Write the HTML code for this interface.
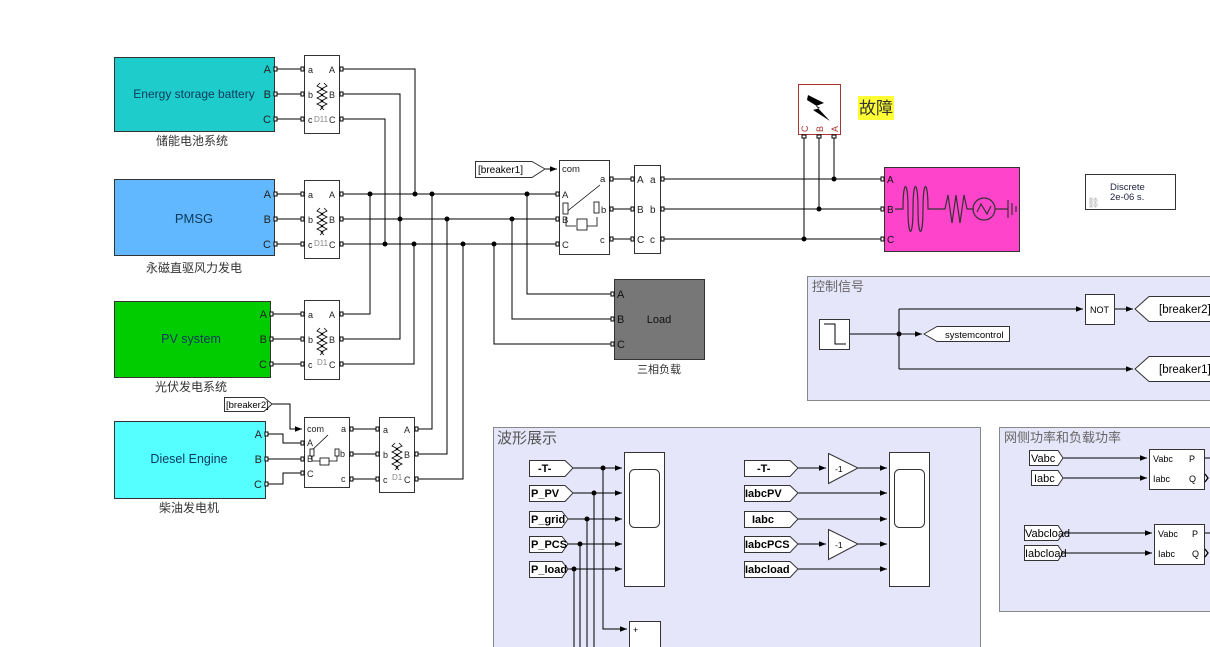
<!DOCTYPE html>
<html><head><meta charset="utf-8"><style>
body{margin:0;background:#fff}
svg{display:block}
text{font-family:"Liberation Sans","Noto Sans CJK SC",sans-serif}
</style></head><body>
<svg width="1210" height="647" viewBox="0 0 1210 647" xmlns="http://www.w3.org/2000/svg">
<defs>
<marker id="ar" viewBox="0 0 10 10" refX="10" refY="5" markerWidth="7" markerHeight="7" orient="auto"><path d="M0,1 L10,5 L0,9z" fill="#000"/></marker>
<g id="coil" fill="none" stroke="#000" stroke-width="0.8">
<path d="M16,28 l-3,3 l6,3 l-6,3 l6,3 l-6,3 l6,3 l-6,3 l6,3 l-3,3"/>
<path d="M20,28 l3,3 l-6,3 l6,3 l-6,3 l6,3 l-6,3 l6,3 l-6,3 l3,3"/>
</g>
</defs>
<rect width="1210" height="647" fill="#fff"/>

<rect x="807.5" y="276.5" width="410" height="124" fill="#e6e6fa" stroke="#888"/>
<text x="812" y="291" font-size="13" fill="#666">控制信号</text>
<rect x="493.5" y="427.5" width="487" height="230" fill="#e6e6fa" stroke="#888"/>
<text x="497" y="443" font-size="15" fill="#555">波形展示</text>
<rect x="999.5" y="427.5" width="220" height="184" fill="#e6e6fa" stroke="#888"/>
<text x="1004" y="442" font-size="13" fill="#666">网侧功率和负载功率</text>

<g stroke="#000" stroke-width="1" fill="none">
<path d="M274,69H304M274,94H304M274,119H304"/>
<path d="M274,194H304M274,219H304M274,244H304"/>
<path d="M270,314H304M270,339H304M270,364H304"/>
<path d="M340,69H415V194M340,94H400V219M340,119H385V244"/>
<path d="M340,194H559M340,219H559M340,244H559"/>
<path d="M340,314H370V194M340,339H400V219M340,364H414V244"/>
<path d="M415,429H432V194M415,454H447V219M415,479H463V244"/>
<path d="M265,434H283V443H304M265,459H304M265,484H283V473H304"/>
<path d="M350,429H379M350,454H379M350,479H379"/>
<path d="M272,404H290V429H302" marker-end="url(#ar)"/>
<path d="M527,194V294H612M512,219V319H612M494,244V344H612"/>
<path d="M545,169H557" marker-end="url(#ar)"/>
<path d="M609,179H634M609,209H634M609,239H634"/>
<path d="M660,179H884M660,209H884M660,239H884"/>
<path d="M834,134V179M819,134V209M804,134V239"/>
<path d="M849,334H899M899,309V369"/>
<path d="M899,334H922" marker-end="url(#ar)"/>
<path d="M899,309H1083" marker-end="url(#ar)"/>
<path d="M1114,309H1133" marker-end="url(#ar)"/>
<path d="M899,369H1133" marker-end="url(#ar)"/>
<path d="M573,468H622" marker-end="url(#ar)"/>
<path d="M573,493H622" marker-end="url(#ar)"/>
<path d="M568,519H622" marker-end="url(#ar)"/>
<path d="M568,544H622" marker-end="url(#ar)"/>
<path d="M568,569H622" marker-end="url(#ar)"/>
<path d="M603,468V629H627" marker-end="url(#ar)"/>
<path d="M594,493V647M587,519V647M580,544V647M574,569V647"/>
<path d="M798,468H826" marker-end="url(#ar)"/>
<path d="M858,468H887" marker-end="url(#ar)"/>
<path d="M798,493H887" marker-end="url(#ar)"/>
<path d="M798,519H887" marker-end="url(#ar)"/>
<path d="M798,544H826" marker-end="url(#ar)"/>
<path d="M858,544H887" marker-end="url(#ar)"/>
<path d="M798,569H887" marker-end="url(#ar)"/>
<path d="M1063,458H1147" marker-end="url(#ar)"/>
<path d="M1063,478H1147" marker-end="url(#ar)"/>
<path d="M1063,533H1152" marker-end="url(#ar)"/>
<path d="M1063,553H1152" marker-end="url(#ar)"/>
<path d="M1204,458H1210M1204,533H1210"/>
</g>
<g fill="#000">
<circle cx="370" cy="194" r="2.5"/><circle cx="415" cy="194" r="2.5"/><circle cx="432" cy="194" r="2.5"/><circle cx="527" cy="194" r="2.5"/>
<circle cx="400" cy="219" r="2.5"/><circle cx="447" cy="219" r="2.5"/><circle cx="512" cy="219" r="2.5"/>
<circle cx="385" cy="244" r="2.5"/><circle cx="414" cy="244" r="2.5"/><circle cx="463" cy="244" r="2.5"/><circle cx="494" cy="244" r="2.5"/>
<circle cx="834" cy="179" r="2.5"/><circle cx="819" cy="209" r="2.5"/><circle cx="804" cy="239" r="2.5"/>
<circle cx="899" cy="334" r="2.5"/>
<circle cx="603" cy="468" r="2.5"/><circle cx="594" cy="493" r="2.5"/><circle cx="587" cy="519" r="2.5"/><circle cx="580" cy="544" r="2.5"/><circle cx="574" cy="569" r="2.5"/>
</g>

<rect x="114.5" y="57.5" width="160" height="74" fill="#1ecccc" stroke="#333"/>
<text x="194" y="98" font-size="12" text-anchor="middle" fill="#0a3a5a">Energy storage battery</text>
<text x="192" y="145" font-size="12" text-anchor="middle" fill="#333">储能电池系统</text>
<rect x="114.5" y="179.5" width="160" height="76" fill="#62b8ff" stroke="#333"/>
<text x="194" y="223" font-size="13" text-anchor="middle" fill="#0a3a5a">PMSG</text>
<text x="194" y="272" font-size="12" text-anchor="middle" fill="#333">永磁直驱风力发电</text>
<rect x="114.5" y="301.5" width="156" height="76" fill="#00cc00" stroke="#333"/>
<text x="191" y="343" font-size="12.5" text-anchor="middle" fill="#0a3a5a">PV system</text>
<text x="191" y="391" font-size="12" text-anchor="middle" fill="#333">光伏发电系统</text>
<rect x="114.5" y="421.5" width="151" height="77" fill="#55ffff" stroke="#333"/>
<text x="189" y="463" font-size="12.5" text-anchor="middle" fill="#0a3a5a">Diesel Engine</text>
<text x="189" y="512" font-size="12" text-anchor="middle" fill="#333">柴油发电机</text>
<g font-size="11" fill="#222" text-anchor="end">
<text x="271" y="73">A</text><text x="271" y="98">B</text><text x="271" y="123">C</text>
<text x="271" y="198">A</text><text x="271" y="223">B</text><text x="271" y="248">C</text>
<text x="267" y="318">A</text><text x="267" y="343">B</text><text x="267" y="368">C</text>
<text x="262" y="438">A</text><text x="262" y="463">B</text><text x="262" y="488">C</text>
</g>

<g fill="#fff" stroke="#333">
<rect x="304.5" y="55.5" width="35" height="78"/>
<rect x="304.5" y="180.5" width="35" height="78"/>
<rect x="304.5" y="300.5" width="35" height="79"/>
<rect x="379.5" y="417.5" width="35" height="75"/>
</g>
<use href="#coil" x="304" y="55"/><use href="#coil" x="304" y="180"/><use href="#coil" x="304" y="300"/><use href="#coil" x="379" y="415"/>
<g font-size="9" fill="#222">
<text x="308" y="73">a</text><text x="308" y="98">b</text><text x="308" y="123">c</text><text x="329" y="73">A</text><text x="329" y="98">B</text><text x="329" y="123">C</text>
<text x="308" y="198">a</text><text x="308" y="223">b</text><text x="308" y="248">c</text><text x="329" y="198">A</text><text x="329" y="223">B</text><text x="329" y="248">C</text>
<text x="308" y="318">a</text><text x="308" y="343">b</text><text x="308" y="368">c</text><text x="329" y="318">A</text><text x="329" y="343">B</text><text x="329" y="368">C</text>
<text x="383" y="433">a</text><text x="383" y="458">b</text><text x="383" y="483">c</text><text x="404" y="433">A</text><text x="404" y="458">B</text><text x="404" y="483">C</text>
</g>
<g font-size="8" fill="#888"><text x="314" y="122">D11</text><text x="314" y="246">D11</text><text x="317" y="365">D1</text><text x="392" y="480">D1</text></g>

<rect x="304.5" y="417.5" width="45" height="70" fill="#fff" stroke="#333"/>
<g font-size="9" fill="#222"><text x="307" y="432">com</text><text x="307" y="446">A</text><text x="307" y="462">B</text><text x="307" y="477">C</text><text x="341" y="432">a</text><text x="341" y="482">c</text><text x="340" y="457">b</text></g>
<path d="M310,452 L328,435 M312,455V461H320M329,461H337V455" stroke="#000" fill="none" stroke-width="0.8"/>
<rect x="310" y="449" width="4" height="7" fill="#fff" stroke="#000" stroke-width="0.8"/><rect x="335" y="449" width="4" height="7" fill="#fff" stroke="#000" stroke-width="0.8"/><rect x="320" y="458" width="9" height="7" fill="#fff" stroke="#000" stroke-width="0.8"/>
<path d="M224.5,397.5H264L272,404L264,411.5H224.5Z" fill="#fff" stroke="#333"/>
<text x="226" y="408" font-size="9.5">[breaker2]</text>

<path d="M475.5,161.5H532L545,169L532,177.5H475.5Z" fill="#fff" stroke="#333"/>
<text x="478" y="173" font-size="10">[breaker1]</text>
<rect x="559.5" y="160.5" width="50" height="94" fill="#fff" stroke="#333"/>
<g font-size="9.5" fill="#222"><text x="562" y="172">com</text><text x="562" y="198">A</text><text x="562" y="223">B</text><text x="562" y="248">C</text><text x="600" y="182">a</text><text x="600" y="243">c</text><text x="601" y="213">b</text></g>
<path d="M565,213 L600,185 M566,217V226H576M586,226H597V217" stroke="#000" fill="none" stroke-width="0.8"/>
<rect x="563" y="203" width="5" height="11" fill="#fff" stroke="#000" stroke-width="0.8"/><rect x="594" y="202" width="5" height="11" fill="#fff" stroke="#000" stroke-width="0.8"/><rect x="577" y="219" width="10" height="11" fill="#fff" stroke="#000" stroke-width="0.8"/>
<rect x="634.5" y="165.5" width="26" height="88" fill="#fff" stroke="#333"/>
<g font-size="10" fill="#222"><text x="637" y="183">A</text><text x="637" y="213">B</text><text x="637" y="243">C</text><text x="650" y="183">a</text><text x="650" y="213">b</text><text x="650" y="243">c</text></g>

<rect x="614.5" y="279.5" width="90" height="80" fill="#777" stroke="#333"/>
<text x="659" y="323" font-size="11" text-anchor="middle" fill="#111">Load</text>
<g font-size="11" fill="#111"><text x="617" y="298">A</text><text x="617" y="323">B</text><text x="617" y="348">C</text></g>
<text x="659" y="373" font-size="11" text-anchor="middle" fill="#333">三相负载</text>

<rect x="798.5" y="84.5" width="42" height="50" fill="#fff" stroke="#a33"/>
<path d="M808,95 L824,103 L816,106 L830,121 L813,110 L820,108 L807,100z" fill="#000"/>
<g font-size="9" fill="#a33"><text transform="translate(808,132) rotate(-90)">C</text><text transform="translate(823,132) rotate(-90)">B</text><text transform="translate(838,132) rotate(-90)">A</text></g>
<rect x="858" y="96" width="36" height="24" fill="#ffff33"/>
<text x="859" y="114" font-size="17" fill="#333">故障</text>

<rect x="884.5" y="167.5" width="135" height="84" fill="#ff44cc" stroke="#333"/>
<g font-size="10" fill="#111"><text x="887" y="183">A</text><text x="887" y="213">B</text><text x="887" y="243">C</text></g>
<path d="M895,209H903 c0,-30 5,-30 5,0 c0,30 5,30 5,0 c0,-30 5,-30 5,0 c0,30 5,30 5,0 c0,-30 5,-30 5,0 H945 l3,-14 l4,28 l4,-28 l4,28 l4,-28 l3,14 H974" fill="none" stroke="#333" stroke-width="1.2"/>
<circle cx="984" cy="209" r="11" fill="none" stroke="#333" stroke-width="1.2"/>
<path d="M977,212 l4,-8 l6,10 l4,-8 M995,209H1008M1008,200V218M1012,203V215M1016,206V212" fill="none" stroke="#333" stroke-width="1.2"/>

<rect x="1085.5" y="174.5" width="90" height="35" fill="#fff" stroke="#333"/>
<text x="1110" y="190" font-size="9.5" fill="#224">Discrete</text><text x="1110" y="200" font-size="9.5" fill="#224">2e-06 s.</text>
<text x="1087" y="206" font-size="10" fill="#aaa">⛓</text>

<rect x="819.5" y="319.5" width="30" height="30" fill="#fff" stroke="#333"/>
<path d="M824,324H835V344H846" fill="none" stroke="#000"/>
<path d="M924,334L937,326.5H1009.5V341.5H937Z" fill="#fff" stroke="#333"/>
<text x="945" y="338" font-size="9.5">systemcontrol</text>
<rect x="1085.5" y="294.5" width="29" height="30" fill="#fff" stroke="#333"/>
<text x="1090" y="313" font-size="9">NOT</text>
<path d="M1135,309L1149,296.5H1215V321.5H1149Z" fill="#fff" stroke="#333"/>
<text x="1159" y="313" font-size="11.5">[breaker2]</text>
<path d="M1135,369L1149,356.5H1215V381.5H1149Z" fill="#fff" stroke="#333"/>
<text x="1159" y="373" font-size="11.5">[breaker1]</text>

<g fill="#fff" stroke="#333">
<path d="M529.5,460.5H565L573,468L565,476.5H529.5Z"/>
<path d="M529.5,485.5H565L573,493L565,501.5H529.5Z"/>
<path d="M529.5,511.5H562L568,519L562,527.5H529.5Z"/>
<path d="M529.5,536.5H562L568,544L562,552.5H529.5Z"/>
<path d="M529.5,561.5H562L568,569L562,577.5H529.5Z"/>
<rect x="624.5" y="452.5" width="40" height="134"/>
<rect x="629.5" y="469.5" width="30" height="58" rx="5"/>
<rect x="629.5" y="621.5" width="31" height="40"/>
<path d="M744.5,460.5H790L798,468L790,476.5H744.5Z"/>
<path d="M744.5,485.5H790L798,493L790,501.5H744.5Z"/>
<path d="M744.5,511.5H790L798,519L790,527.5H744.5Z"/>
<path d="M744.5,536.5H790L798,544L790,552.5H744.5Z"/>
<path d="M744.5,561.5H790L798,569L790,577.5H744.5Z"/>
<path d="M828.5,453.5L858,468L828.5,483.5Z"/>
<path d="M828.5,529.5L858,544L828.5,559.5Z"/>
<rect x="889.5" y="452.5" width="40" height="134"/>
<rect x="894.5" y="469.5" width="30" height="58" rx="5"/>
</g>
<g font-size="11" font-weight="bold" fill="#000">
<text x="538" y="472">-T-</text><text x="531" y="497">P_PV</text><text x="531" y="523">P_grid</text><text x="531" y="548">P_PCS</text><text x="531" y="573">P_load</text>
<text x="757" y="472">-T-</text><text x="745" y="497">IabcPV</text><text x="752" y="523">Iabc</text><text x="745" y="548">IabcPCS</text><text x="745" y="573">Iabcload</text>
</g>
<text x="633" y="633" font-size="9">+</text>
<text x="835" y="472" font-size="8.5">-1</text><text x="835" y="548" font-size="8.5">-1</text>

<g fill="#fff" stroke="#333">
<path d="M1029.5,450.5H1058L1063,458L1058,465.5H1029.5Z"/>
<path d="M1031.5,470.5H1058L1063,478L1058,485.5H1031.5Z"/>
<path d="M1024.5,525.5H1058L1063,533L1058,540.5H1024.5Z"/>
<path d="M1024.5,545.5H1058L1063,553L1058,560.5H1024.5Z"/>
<rect x="1149.5" y="449.5" width="55" height="40"/>
<rect x="1154.5" y="524.5" width="50" height="40"/>
</g>
<g font-size="11" fill="#000"><text x="1031" y="462">Vabc</text><text x="1034" y="482">Iabc</text><text x="1025" y="537">Vabcload</text><text x="1025" y="557">Iabcload</text></g>
<g font-size="9" fill="#000"><text x="1153" y="462">Vabc</text><text x="1153" y="482">Iabc</text><text x="1189" y="462">P</text><text x="1189" y="482">Q</text>
<text x="1158" y="537">Vabc</text><text x="1158" y="557">Iabc</text><text x="1192" y="537">P</text><text x="1192" y="557">Q</text></g>
<path d="M1205,474l3,4l-3,4M1205,549l3,4l-3,4" fill="none" stroke="#000" stroke-width="1.3"/>

<g fill="#fff" stroke="#000" stroke-width="1">
<rect x="274" y="67" width="3" height="4"/><rect x="274" y="92" width="3" height="4"/><rect x="274" y="117" width="3" height="4"/>
<rect x="274" y="192" width="3" height="4"/><rect x="274" y="217" width="3" height="4"/><rect x="274" y="242" width="3" height="4"/>
<rect x="270" y="312" width="3" height="4"/><rect x="270" y="337" width="3" height="4"/><rect x="270" y="362" width="3" height="4"/>
<rect x="265" y="432" width="3" height="4"/><rect x="265" y="457" width="3" height="4"/><rect x="265" y="482" width="3" height="4"/>
<rect x="301" y="67" width="3" height="4"/><rect x="301" y="92" width="3" height="4"/><rect x="301" y="117" width="3" height="4"/><rect x="340" y="67" width="3" height="4"/><rect x="340" y="92" width="3" height="4"/><rect x="340" y="117" width="3" height="4"/>
<rect x="301" y="192" width="3" height="4"/><rect x="301" y="217" width="3" height="4"/><rect x="301" y="242" width="3" height="4"/><rect x="340" y="192" width="3" height="4"/><rect x="340" y="217" width="3" height="4"/><rect x="340" y="242" width="3" height="4"/>
<rect x="301" y="312" width="3" height="4"/><rect x="301" y="337" width="3" height="4"/><rect x="301" y="362" width="3" height="4"/><rect x="340" y="312" width="3" height="4"/><rect x="340" y="337" width="3" height="4"/><rect x="340" y="362" width="3" height="4"/>
<rect x="301" y="441" width="3" height="4"/><rect x="301" y="457" width="3" height="4"/><rect x="301" y="471" width="3" height="4"/><rect x="350" y="427" width="3" height="4"/><rect x="350" y="452" width="3" height="4"/><rect x="350" y="477" width="3" height="4"/>
<rect x="376" y="427" width="3" height="4"/><rect x="376" y="452" width="3" height="4"/><rect x="376" y="477" width="3" height="4"/><rect x="415" y="427" width="3" height="4"/><rect x="415" y="452" width="3" height="4"/><rect x="415" y="477" width="3" height="4"/>
<rect x="556" y="192" width="3" height="4"/><rect x="556" y="217" width="3" height="4"/><rect x="556" y="242" width="3" height="4"/><rect x="610" y="177" width="3" height="4"/><rect x="610" y="207" width="3" height="4"/><rect x="610" y="237" width="3" height="4"/>
<rect x="631" y="177" width="3" height="4"/><rect x="631" y="207" width="3" height="4"/><rect x="631" y="237" width="3" height="4"/><rect x="661" y="177" width="3" height="4"/><rect x="661" y="207" width="3" height="4"/><rect x="661" y="237" width="3" height="4"/>
<rect x="881" y="177" width="3" height="4"/><rect x="881" y="207" width="3" height="4"/><rect x="881" y="237" width="3" height="4"/>
<rect x="611" y="292" width="3" height="4"/><rect x="611" y="317" width="3" height="4"/><rect x="611" y="342" width="3" height="4"/>
<rect x="802" y="135" width="4" height="3"/><rect x="817" y="135" width="4" height="3"/><rect x="832" y="135" width="4" height="3"/>
</g>
</svg>
</body></html>
